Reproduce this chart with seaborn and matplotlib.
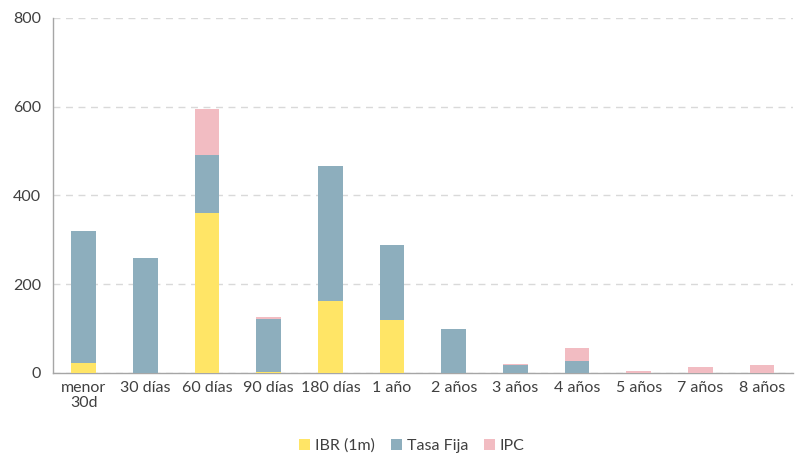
import seaborn as sns
import matplotlib.pyplot as plt
import numpy as np
import pandas as pd

# plazos
categorias = ["menor\n30d", "30 días", "60 días", "90 días", "180 días", "1 año",
              "2 años", "3 años", "4 años", "5 años", "7 años", "8 años"]
ibr = [22, 0, 360, 3, 162, 120, 0, 0, 0, 0, 0, 0]
tasa_fija = [298, 258, 132, 119, 304, 168, 99, 17, 26, 0, 0, 0]
ipc = [0, 0, 103, 4, 0, 0, 0, 2, 29, 5, 14, 17]

colores = {"IBR (1m)": "#FFE566", "Tasa Fija": "#8DAEBD", "IPC": "#F2BCC2"}

df = pd.DataFrame({"plazo": categorias, "IBR (1m)": ibr, "Tasa Fija": tasa_fija, "IPC": ipc})

sns.set_style("white")
plt.rcParams["font.family"] = ["Lato", "DejaVu Sans"]

fig = plt.figure(figsize=(8.01, 4.57), dpi=100)
ax = fig.add_axes([0.066, 0.184, 0.924, 0.777])

base = np.zeros(len(df))
for serie in ["IBR (1m)", "Tasa Fija", "IPC"]:
    sns.barplot(data=df, x="plazo", y=serie, color=colores[serie], bottom=base,
                width=0.4, ax=ax, label=serie, saturation=1, zorder=3,
                linewidth=0, edgecolor="none")
    base = base + df[serie].values

ax.set_ylim(0, 800)
ax.set_xlim(-0.5, len(categorias) - 0.5)
ax.set_yticks([0, 200, 400, 600, 800])
ax.yaxis.grid(True, linestyle=(0, (5, 4)), color="#d9d9d9", linewidth=1, zorder=0)
ax.set_xlabel("")
ax.set_ylabel("")

for s in ["top", "right"]:
    ax.spines[s].set_visible(False)
for s in ["left", "bottom"]:
    ax.spines[s].set_color("#a6a6a6")
    ax.spines[s].set_linewidth(1)

ax.set_xticks(np.arange(-0.5, len(categorias)), minor=True)
ax.tick_params(axis="x", which="major", length=0, pad=6, labelsize=11.5, colors="#404040")
ax.tick_params(axis="x", which="minor", length=5, color="#a6a6a6", width=1)
ax.tick_params(axis="y", length=5, color="#a6a6a6", width=1, labelsize=11.5, colors="#404040")
for t in ax.get_xticklabels():
    t.set_linespacing(1.1)

ax.legend(loc="upper center", bbox_to_anchor=(0.485, -0.145), ncol=3, frameon=False,
          handlelength=0.7, handleheight=0.7, handletextpad=0.3, columnspacing=1.0,
          fontsize=11.5, labelcolor="#404040")

fig.savefig("out.png", dpi=100)
